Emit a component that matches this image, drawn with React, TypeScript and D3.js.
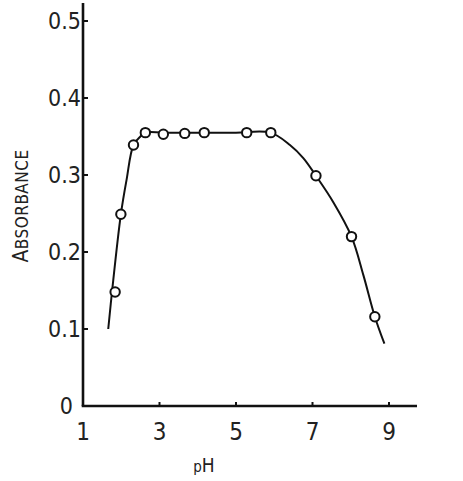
import React from "react";
import * as d3 from "d3";

// Measured points (pH, absorbance)
const pointPH = [1.84, 1.99, 2.32, 2.63, 3.1, 3.66, 4.17, 5.28, 5.91, 7.09, 8.02, 8.63];
const pointAbs = [0.148, 0.249, 0.339, 0.355, 0.353, 0.354, 0.355, 0.355, 0.355, 0.299, 0.22, 0.116];

// Hand-drawn fitted curve
const curvePH = [1.66, 1.76, 1.99, 2.14, 2.32, 2.5, 2.63, 3.1, 4, 5, 5.9, 6.41, 6.76, 7.09, 7.54, 8.02, 8.33, 8.63, 8.88];
const curveAbs = [0.1, 0.149, 0.249, 0.294, 0.339, 0.35, 0.355, 0.355, 0.355, 0.355, 0.355, 0.339, 0.322, 0.299, 0.265, 0.22, 0.17, 0.116, 0.081];

const xTicks = [1, 3, 5, 7, 9];
const xTickLabels = ["1", "3", "5", "7", "9"];
const yTicks = [0, 0.1, 0.2, 0.3, 0.4, 0.5];
const yTickLabels = ["0", "0.1", "0.2", "0.3", "0.4", "0.5"];

const FONT = "'DejaVu Sans Condensed', 'DejaVu Sans', sans-serif";

export default function App() {
  const x = d3.scaleLinear().domain([1, 9]).range([83, 389]);
  const y = d3.scaleLinear().domain([0, 0.5]).range([406, 21]);

  const curveData = curvePH.map((p, i) => [p, curveAbs[i]] as [number, number]);
  const line = d3
    .line<[number, number]>()
    .x((d) => x(d[0]))
    .y((d) => y(d[1]))
    .curve(d3.curveCatmullRom.alpha(0.5));

  const x0 = x(1);
  const y0 = y(0);

  return (
    <svg
      width={463}
      height={481}
      style={{ position: "absolute", left: 0, top: 0, background: "#fff" }}
    >
      <rect x={0} y={0} width={463} height={481} fill="#fff" />
      {/* axes */}
      <line x1={x0} y1={y0} x2={x0} y2={3} stroke="#111" strokeWidth={2.6} />
      <line x1={x0 - 1.3} y1={y0} x2={417} y2={y0} stroke="#111" strokeWidth={2.6} />

      {/* y ticks */}
      {yTicks.map((t, i) => (
        <g key={"y" + i}>
          {t > 0 && (
            <line x1={x0} x2={x0 + 5} y1={y(t)} y2={y(t)} stroke="#111" strokeWidth={2} />
          )}
          <text
            x={t === 0 ? 73 : 81}
            y={y(t) + 8}
            textAnchor="end"
            fontFamily={FONT}
            fontSize={23}
            fill="#222"
          >
            {yTickLabels[i]}
          </text>
        </g>
      ))}

      {/* x ticks */}
      {xTicks.map((t, i) => (
        <g key={"x" + i}>
          {i > 0 && (
            <line x1={x(t)} x2={x(t)} y1={y0} y2={y0 - 4} stroke="#111" strokeWidth={2} />
          )}
          <text
            x={x(t)}
            y={440}
            textAnchor="middle"
            fontFamily={FONT}
            fontSize={24}
            fill="#222"
          >
            {xTickLabels[i]}
          </text>
        </g>
      ))}

      {/* axis titles */}
      <text x={204} y={472} textAnchor="middle" fontFamily={FONT} fontSize={19} fill="#222">
        <tspan fontSize={15}>p</tspan>H
      </text>
      <text
        transform="translate(28,206) rotate(-90)"
        textAnchor="middle"
        fontFamily={FONT}
        fontSize={17}
        fill="#222"
        letterSpacing={0.5}
      >
        <tspan fontSize={21}>A</tspan>BSORBANCE
      </text>

      {/* curve */}
      <path d={line(curveData) || ""} fill="none" stroke="#111" strokeWidth={2} />

      {/* points */}
      {pointPH.map((p, i) => (
        <circle
          key={"p" + i}
          cx={x(p)}
          cy={y(pointAbs[i])}
          r={4.7}
          fill="#fff"
          stroke="#111"
          strokeWidth={2}
        />
      ))}
    </svg>
  );
}
